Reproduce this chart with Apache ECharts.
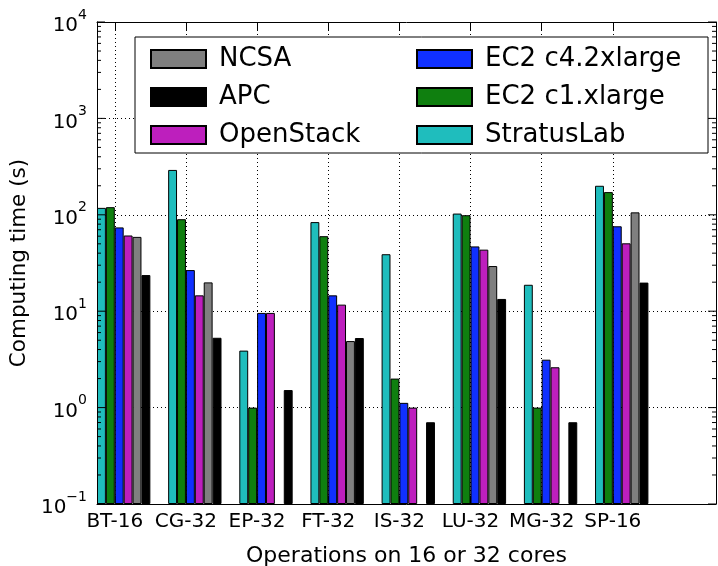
<!DOCTYPE html>
<html><head><meta charset="utf-8">
<script src="https://cdn.jsdelivr.net/npm/echarts@6/dist/echarts.min.js"></script>
<style>html,body{margin:0;padding:0;background:#fff}#c{width:718px;height:566px}</style>
</head><body><div id="c"></div>
<script>
const categories = ['BT-16','CG-32','EP-32','FT-32','IS-32','LU-32','MG-32','SP-16'];
const stratusLab = [118, 292, 3.9, 84, 39, 103, 18.8, 200];
const ec2c1 = [120, 90, 1.0, 60, 2.0, 99, 1.0, 172];
const ec2c4 = [74, 26.7, 9.6, 14.6, 1.12, 47, 3.14, 76];
const openStack = [61, 14.6, 9.6, 11.7, 1.0, 43.5, 2.62, 50.6];
const ncsa = [59, 19.9, null, 4.9, null, 29.4, null, 106];
const apc = [23.7, 5.3, 1.52, 5.27, 0.705, 13.4, 0.705, 19.8];
const yMajorTicks = [0.1, 1, 10, 100, 1000, 10000];
const minorMultiples = [2, 3, 4, 5, 6, 7, 8, 9];

const FONT = 'DejaVu Sans';
const chart = echarts.init(document.getElementById('c'), null, {renderer: 'canvas'});

function toData(arr) { return arr.map((v, i) => [i, v == null ? '-' : v]); }
function barSeries(name, arr, color) {
  return {
    name: name, type: 'bar', data: toData(arr),
    barWidth: '12.5%', barGap: '0%',
    itemStyle: {color: color, borderColor: '#000', borderWidth: 1},
    emphasis: {disabled: true}, animation: false
  };
}
// tick marks on the log axis (major + minor), drawn on both left and right frame edges
const tickMarks = [];
yMajorTicks.forEach((t, k) => {
  tickMarks.push([0, t, 8]);
  if (k < yMajorTicks.length - 1) minorMultiples.forEach(m => tickMarks.push([0, t * m, 4]));
});
const catIdx = categories.map((c, i) => i);
const gridDots = {color: '#000', type: [1, 3], width: 1};
const frameLine = {show: true, onZero: false, lineStyle: {color: '#000', width: 1}};

const option = {
  backgroundColor: '#fff',
  animation: false,
  textStyle: {fontFamily: FONT},
  grid: {left: 97, top: 22, right: 2, bottom: 62, containLabel: false, outerBoundsMode: 'none'},
  xAxis: [{
    type: 'value', min: -0.25, max: 8.45, position: 'bottom',
    name: 'Operations on 16 or 32 cores', nameLocation: 'middle', nameGap: 41,
    nameTextStyle: {fontSize: 22, color: '#000', fontFamily: FONT},
    axisLine: frameLine,
    axisTick: {show: true, inside: true, length: 8, lineStyle: {color: '#000'}, customValues: catIdx},
    axisLabel: {show: true, fontSize: 20, color: '#000', fontFamily: FONT, margin: 8,
      customValues: catIdx, formatter: v => categories[Math.round(v)] || ''},
    splitLine: {show: true, lineStyle: gridDots}
  }, {
    type: 'value', min: -0.25, max: 8.45, position: 'top',
    axisLine: frameLine,
    axisTick: {show: true, inside: true, length: 8, lineStyle: {color: '#000'}, customValues: catIdx},
    axisLabel: {show: false}, splitLine: {show: false}
  }],
  yAxis: [{
    type: 'log', logBase: 10, min: 0.1, max: 10000, startValue: 0.1, position: 'left',
    name: 'Computing time (s)', nameLocation: 'middle', nameGap: 63,
    nameTextStyle: {fontSize: 21.5, color: '#000', fontFamily: FONT},
    axisLine: frameLine,
    axisTick: {show: false},
    axisLabel: {
      show: true, margin: 10, color: '#000', fontFamily: FONT,
      formatter: v => { const e = Math.round(Math.log10(v)); return '{b|10}{s|' + (e < 0 ? '\u2212' + (-e) : e) + '}'; },
      rich: {
        b: {fontSize: 20, fontFamily: FONT, color: '#000', verticalAlign: 'bottom', lineHeight: 28},
        s: {fontSize: 14, fontFamily: FONT, color: '#000', verticalAlign: 'top', lineHeight: 20}
      }
    },
    splitLine: {show: true, lineStyle: gridDots}
  }, {
    type: 'log', logBase: 10, min: 0.1, max: 10000, position: 'right',
    axisLine: frameLine,
    axisTick: {show: false}, axisLabel: {show: false}, splitLine: {show: false}
  }],
  legend: [{
    orient: 'vertical', left: 145, top: 41, itemWidth: 55, itemHeight: 18, itemGap: 12,
    icon: 'rect', data: ['NCSA', 'APC', 'OpenStack'],
    textStyle: {fontSize: 26, fontFamily: FONT, color: '#000', padding: [0, 0, 0, 8]},
    selectedMode: false
  }, {
    orient: 'vertical', left: 411, top: 41, itemWidth: 55, itemHeight: 18, itemGap: 12,
    icon: 'rect', data: ['EC2 c4.2xlarge', 'EC2 c1.xlarge', 'StratusLab'],
    textStyle: {fontSize: 26, fontFamily: FONT, color: '#000', padding: [0, 0, 0, 8]},
    selectedMode: false
  }],
  graphic: [{
    type: 'rect', z: 3, silent: true,
    shape: {x: 135, y: 37, width: 573, height: 116},
    style: {fill: '#fff', stroke: '#000', lineWidth: 1}
  }],
  series: [
    {name: '_pad1', type: 'bar', data: [], barWidth: '12.5%', barGap: '0%'},
    {name: '_pad2', type: 'bar', data: [], barWidth: '12.5%', barGap: '0%'},
    barSeries('StratusLab', stratusLab, '#1fbdbd'),
    barSeries('EC2 c1.xlarge', ec2c1, '#0f7f0f'),
    barSeries('EC2 c4.2xlarge', ec2c4, '#1030ff'),
    barSeries('OpenStack', openStack, '#bd1fbd'),
    barSeries('NCSA', ncsa, '#7f7f7f'),
    barSeries('APC', apc, '#000000'),
    {
      type: 'custom', silent: true, z: 5, data: tickMarks,
      encode: {x: 0, y: 1},
      renderItem: function (params, api) {
        const cs = params.coordSys;
        const y = api.coord([0, api.value(1)])[1];
        const len = api.value(2);
        return {type: 'group', children: [
          {type: 'line', shape: {x1: cs.x, y1: y, x2: cs.x + len, y2: y}, style: {stroke: '#000', lineWidth: 1}},
          {type: 'line', shape: {x1: cs.x + cs.width - len, y1: y, x2: cs.x + cs.width, y2: y}, style: {stroke: '#000', lineWidth: 1}}
        ]};
      }
    }
  ]
};
chart.setOption(option);
</script>
</body></html>
